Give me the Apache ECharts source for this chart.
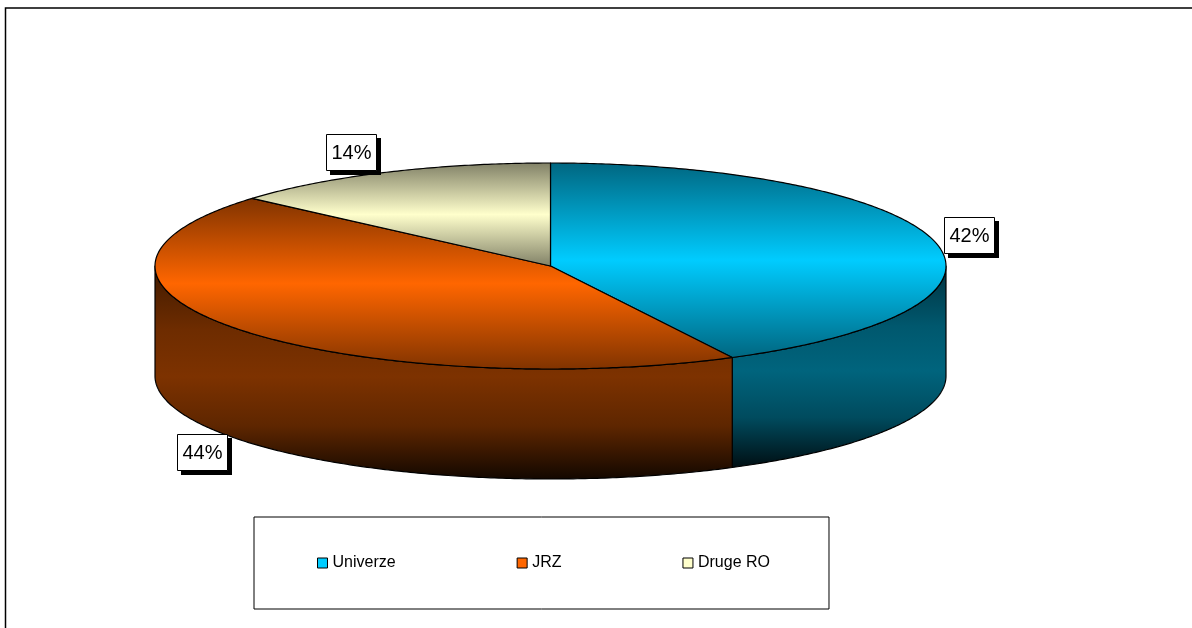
<!DOCTYPE html>
<html>
<head>
<meta charset="utf-8">
<title>Univerze, JRZ, Druge RO</title>
<style>
html, body { margin: 0; padding: 0; background: #fff; overflow: hidden; }
#main { width: 1192px; height: 628px; }
</style>
<script src="https://cdn.jsdelivr.net/npm/echarts@6/dist/echarts.min.js"></script>
</head>
<body>
<div id="main"></div>
<script>
// podatki
var categories = ['Univerze', 'JRZ', 'Druge RO'];
var shares = [42.4, 44.0, 13.6];
var midColors = ['#00CCFF', '#FF6600', '#FFFFCC'];

var FONT = '"Liberation Sans", Arial, sans-serif';
// debelina torte v enotah osi y (polmer elipse = 1)
var DEPTH = 1.068;

var total = shares.reduce(function (a, b) { return a + b; }, 0);

function shade(hex, f) {
    var n = parseInt(hex.slice(1), 16);
    var r = Math.round((n >> 16 & 255) * f),
        g = Math.round((n >> 8 & 255) * f),
        b = Math.round((n & 255) * f);
    return 'rgb(' + r + ',' + g + ',' + b + ')';
}

// preliv gre po okvirju vsakega kosa posebej
function topFill(color) {
    return {
        type: 'linear', x: 0, y: 0, x2: 0, y2: 1,
        colorStops: [
            { offset: 0, color: shade(color, 0.5) },
            { offset: 0.5, color: color },
            { offset: 1, color: shade(color, 0.5) }
        ]
    };
}

function sideFill(color) {
    return {
        type: 'linear', x: 0, y: 0, x2: 0, y2: 1,
        colorStops: [
            { offset: 0, color: shade(color, 0.25) },
            { offset: 0.1, color: shade(color, 0.31) },
            { offset: 0.3, color: shade(color, 0.43) },
            { offset: 0.52, color: shade(color, 0.49) },
            { offset: 0.75, color: shade(color, 0.37) },
            { offset: 1, color: shade(color, 0.07) }
        ]
    };
}

// kot a (v radianih) od 12. ure v smeri urinega kazalca
function rimPoint(api, a, drop) {
    return api.coord([Math.sin(a), Math.cos(a) - drop]);
}

function arcPoints(api, from, to, drop) {
    var pts = [];
    var steps = Math.max(2, Math.ceil(Math.abs(to - from) / 0.01));
    for (var i = 0; i <= steps; i++) {
        pts.push(rimPoint(api, from + (to - from) * i / steps, drop));
    }
    return pts;
}

function renderSlice(params, api) {
    var a0 = api.value(0) / total * Math.PI * 2;
    var a1 = api.value(1) / total * Math.PI * 2;
    var color = midColors[params.seriesIndex];
    var children = [];
    var lineStyle = { stroke: '#000', lineWidth: 1.2, lineJoin: 'round' };

    // vidni del plašča je samo spredaj (med 3. in 9. uro)
    var s0 = Math.max(a0, Math.PI / 2), s1 = Math.min(a1, Math.PI * 1.5);
    if (s1 > s0) {
        var side = arcPoints(api, s0, s1, 0).concat(arcPoints(api, s1, s0, DEPTH));
        children.push({
            type: 'polygon',
            shape: { points: side },
            style: echarts.util.extend({ fill: sideFill(color) }, lineStyle)
        });
    }

    var pie = [api.coord([0, 0])].concat(arcPoints(api, a0, a1, 0));
    children.push({
        type: 'polygon',
        shape: { points: pie },
        style: echarts.util.extend({ fill: topFill(color) }, lineStyle)
    });
    return { type: 'group', children: children };
}

var running = 0;
var series = categories.map(function (name, i) {
    var start = running;
    running += shares[i];
    return {
        type: 'custom',
        name: name,
        coordinateSystem: 'cartesian2d',
        clip: false,
        silent: true,
        itemStyle: { color: midColors[i] },
        encode: { x: 0, y: 1 },
        data: [[start, running]],
        renderItem: renderSlice
    };
});

// oznake z odstotki: [levo, zgoraj]
var labelBoxes = [[944, 217], [177, 434], [326, 134]];
var labelGraphics = [];
shares.forEach(function (v, i) {
    var box = labelBoxes[i];
    labelGraphics.push({
        type: 'rect',
        z: 9,
        shape: { x: box[0] + 4, y: box[1] + 4, width: 51, height: 37 },
        style: { fill: '#000' }
    }, {
        type: 'rect',
        z: 10,
        shape: { x: box[0] + 0.5, y: box[1] + 0.5, width: 50, height: 36 },
        style: { fill: '#fff', stroke: '#000', lineWidth: 1 }
    }, {
        type: 'text',
        z: 11,
        x: box[0] + 25.5,
        y: box[1] + 19,
        style: {
            text: Math.round(v) + '%',
            font: '20px ' + FONT,
            fill: '#000',
            align: 'center',
            verticalAlign: 'middle'
        }
    });
});

var myChart = echarts.init(document.getElementById('main'));
myChart.setOption({
    animation: false,
    backgroundColor: '#fff',
    tooltip: { show: false },
    grid: { left: 155, top: 163, width: 791, height: 319.3, containLabel: false },
    xAxis: { type: 'value', min: -1, max: 1, show: false },
    yAxis: { type: 'value', min: -2.1, max: 1, show: false },
    legend: {
        data: categories,
        orient: 'horizontal',
        left: 254,
        top: 517,
        padding: [38, 59, 38, 63],
        itemGap: 121,
        itemWidth: 10,
        itemHeight: 10,
        icon: 'rect',
        selectedMode: false,
        borderColor: '#000',
        borderWidth: 1,
        itemStyle: { borderColor: '#000', borderWidth: 1 },
        textStyle: { fontFamily: FONT, fontSize: 16, color: '#000', padding: 0 }
    },
    graphic: [{
        type: 'rect',
        z: 0,
        shape: { x: 5.5, y: 8, width: 1300, height: 800 },
        style: { fill: 'none', stroke: '#000', lineWidth: 1.5 }
    }].concat(labelGraphics),
    series: series
});
</script>
</body>
</html>
